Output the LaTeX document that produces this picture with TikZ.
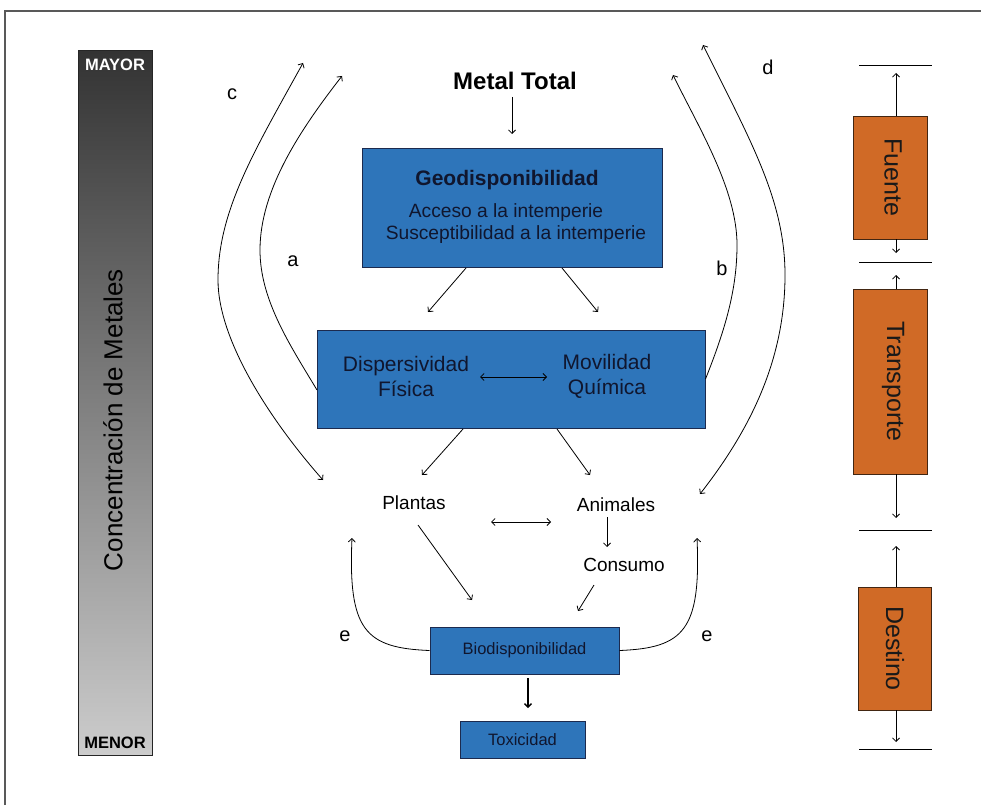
\documentclass[tikz,border=0pt]{standalone}
\usepackage{fontspec}
\setmainfont{Liberation Sans}
\usetikzlibrary{arrows.meta}
\definecolor{boxblue}{RGB}{46,117,186}
\definecolor{boxedge}{RGB}{28,42,78}
\definecolor{inkdark}{RGB}{16,22,46}
\definecolor{rust}{RGB}{208,106,38}
\definecolor{rustedge}{RGB}{66,38,18}
\newcommand{\sz}[1]{\fontsize{#1}{#1}\selectfont}
\begin{document}
\begin{tikzpicture}[x=1pt,y=-1pt,
  >={Straight Barb[length=3.5pt,width=7pt]},
  line width=0.8pt,
  bluebox/.style={draw=boxedge,fill=boxblue,line width=1pt,inner sep=0pt},
  rustbox/.style={draw=rustedge,fill=rust,line width=0.8pt,inner sep=0pt,minimum width=74pt},
  inbox/.style={text=inkdark,inner sep=0pt},
  plain/.style={inner sep=0pt,font=\sz{19}},
  tag/.style={inner sep=0pt,font=\sz{20}},
  level/.style={line width=1pt}]
\useasboundingbox (0,0) rectangle (981,805);

% outer frame (only top and left edges inside the page)
\draw[black!65,line width=1.6pt] (5,805) -- (5,11) -- (981,11);

% concentration bar
\shade[top color=black!80,bottom color=black!20] (78,51) rectangle (152,755);
\node[draw=black!85,line width=1pt,minimum width=74pt,minimum height=704pt,inner sep=0pt] (bar) at (115,403) {};
\node[text=white,font=\bfseries\sz{16.5},inner sep=0pt] (mayor) at (115,65) {MAYOR};
\node[text=black,font=\bfseries\sz{16.5},inner sep=0pt] (menor) at (115,743) {MENOR};
\node[rotate=90,font=\sz{26},inner sep=0pt] (conc) at (113,420) {Concentración de Metales};

% central flow
\node[inner sep=0pt,font=\bfseries\sz{24}] (total) at (515,81) {Metal Total};
\node[bluebox,minimum width=300pt,minimum height=118pt] (geo) at (512,208) {};
\node[inbox,font=\bfseries\sz{21}] (geot) at (507,180) {Geodisponibilidad};
\node[inbox,font=\sz{19.2}] (geo1) at (506,213) {Acceso a la intemperie};
\node[inbox,font=\sz{19.2}] (geo2) at (516,235) {Susceptibilidad a la intemperie};

\node[bluebox,minimum width=388pt,minimum height=98pt] (disp) at (511,379) {};
\node[inbox,font=\sz{21},align=center] (fis) at (406,376) {Dispersividad\\[4pt]Física};
\node[inbox,font=\sz{21},align=center] (qui) at (607,376) {Movilidad\\[4pt]Química};

\node[plain] (plantas) at (414,503) {Plantas};
\node[plain] (animales) at (616,505) {Animales};
\node[plain] (consumo) at (624,565) {Consumo};

\node[bluebox,minimum width=189pt,minimum height=47pt] (bio) at (524.5,650.5) {};
\node[inbox,font=\sz{16.5}] (biot) at (524.5,650.5) {Biodisponibilidad};
\node[bluebox,minimum width=125pt,minimum height=37pt] (tox) at (522.5,739.5) {};
\node[inbox,font=\sz{16.5}] (toxt) at (522.5,739.5) {Toxicidad};

% short connectors
\coordinate (t0a) at (512,97);  \coordinate (t0b) at (512,134);
\draw[->] (t0a) -- (t0b);
\coordinate (g1a) at (466,268); \coordinate (g1b) at (428,312);
\coordinate (g2a) at (562,268); \coordinate (g2b) at (598,312);
\draw[->] (g1a) -- (g1b);
\draw[->] (g2a) -- (g2b);
\coordinate (dfa) at (480,377); \coordinate (dfb) at (547,377);
\draw[<->] (dfa) -- (dfb);
\coordinate (d1a) at (463,429); \coordinate (d1b) at (422,475);
\coordinate (d2a) at (557,429); \coordinate (d2b) at (590,475);
\draw[->] (d1a) -- (d1b);
\draw[->] (d2a) -- (d2b);
\coordinate (paa) at (491,522); \coordinate (pab) at (551,522);
\draw[<->] (paa) -- (pab);
\coordinate (ac1) at (607,517); \coordinate (ac2) at (607,547);
\draw[->] (ac1) -- (ac2);
\coordinate (pb1) at (418,525); \coordinate (pb2) at (472,600);
\draw[->] (pb1) -- (pb2);
\coordinate (cb1) at (594,585); \coordinate (cb2) at (578,611);
\draw[->] (cb1) -- (cb2);
\coordinate (bt1) at (528,678); \coordinate (bt2) at (528,708);
\draw[->,line width=1.3pt] (bt1) -- (bt2);

% feedback curves a, b, c, d
\coordinate (aStart) at (317,390); \coordinate (aTip) at (342,76);
\draw[->] (aStart) .. controls (290,345) and (260,300) .. (260,250)
                   .. controls (260,190) and (300,130) .. (aTip);
\coordinate (bTip) at (673,75);
\draw[->] (disp.east) .. controls (725,330) and (737,290) .. (737,245)
                      .. controls (737,190) and (700,130) .. (bTip);
\coordinate (cTop) at (303,63); \coordinate (cBot) at (323,480);
\draw[<->] (cTop) .. controls (255,150) and (218,210) .. (218,280)
                  .. controls (218,340) and (270,420) .. (cBot);
\coordinate (dTop) at (703,45); \coordinate (dBot) at (700,494);
\draw[<->] (dTop) .. controls (750,140) and (785,200) .. (785,275)
                  .. controls (785,360) and (750,430) .. (dBot);
\coordinate (eL) at (352,538); \coordinate (eR) at (697,538);
\draw[->] (bio.west) .. controls (365,648) and (348,630) .. (eL);
\draw[->] (bio.east) .. controls (684,648) and (701,630) .. (eR);

\node[tag] (la) at (293,261) {a};
\node[tag] (lb) at (722,268) {b};
\node[tag] (lc) at (232,94) {c};
\node[tag] (ld) at (768,67) {d};
\node[tag] (le1) at (345,636) {e};
\node[tag] (le2) at (707,636) {e};

% stage column
\node[rustbox,minimum height=123pt] (fu) at (890,177.5) {};
\node[rotate=-90,font=\sz{25},text=black!90,inner sep=0pt] (fut) at (893,177.5) {Fuente};
\node[rustbox,minimum height=185pt] (tr) at (890,381.5) {};
\node[rotate=-90,font=\sz{25},text=black!90,inner sep=0pt] (trt) at (893,381.5) {Transporte};
\node[rustbox,minimum width=73pt,minimum height=123pt] (de) at (894.5,648.5) {};
\node[rotate=-90,font=\sz{25},text=black!90,inner sep=0pt] (det) at (895,648.5) {Destino};

\coordinate (L1a) at (859,66);  \coordinate (L1b) at (932,66);
\coordinate (L2a) at (859,262); \coordinate (L2b) at (932,262);
\coordinate (L3a) at (859,530); \coordinate (L3b) at (932,530);
\coordinate (L4a) at (859,749); \coordinate (L4b) at (932,749);
\foreach \k in {1,2,3,4} \draw[level] (L\k a) -- (L\k b);

\coordinate (rx) at (896,0);
\coordinate (s1) at (896,73);  \coordinate (s2) at (896,253);
\coordinate (s3) at (896,275); \coordinate (s4) at (896,518);
\coordinate (s5) at (896,546); \coordinate (s6) at (896,742);
\draw[->] (fu.north -| rx) -- (s1);
\draw[->] (fu.south -| rx) -- (s2);
\draw[->] (tr.north -| rx) -- (s3);
\draw[->] (tr.south -| rx) -- (s4);
\draw[->] (de.north -| rx) -- (s5);
\draw[->] (de.south -| rx) -- (s6);
\end{tikzpicture}
\end{document}
